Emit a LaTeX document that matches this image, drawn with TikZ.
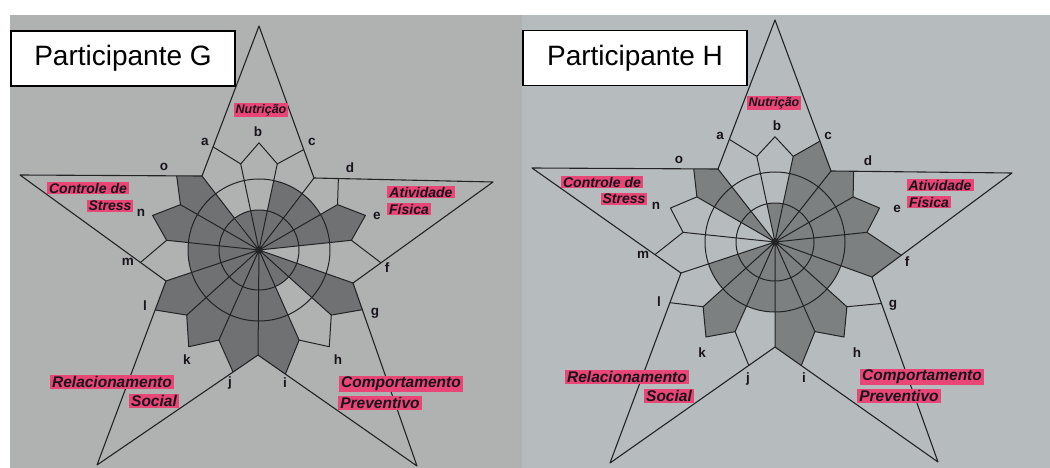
\documentclass[tikz,border=0pt]{standalone}
\usepackage{fontspec}
\setmainfont{Liberation Sans}
\usetikzlibrary{calc}
\definecolor{photoG}{RGB}{176,178,178}
\definecolor{photoH}{RGB}{182,188,189}
\definecolor{shadeG}{RGB}{112,113,115}
\definecolor{shadeH}{RGB}{124,128,129}
\definecolor{linec}{RGB}{35,35,38}
\definecolor{pinkc}{RGB}{232,70,118}
\definecolor{textc}{RGB}{25,20,28}
\tikzset{
  starline/.style={draw=linec, line width=1.1pt, line join=round},
  gridline/.style={draw=linec, line width=1pt, line join=round},
  shd/.style={fill=shadeG},
  comp/.style={fill=pinkc, text=textc, font=\fontsize{14}{15}\selectfont\bfseries\itshape, inner xsep=2pt, inner ysep=1.2pt},
  compbig/.style={comp, font=\fontsize{15.5}{16}\selectfont\bfseries\itshape},
  compsmall/.style={comp, font=\fontsize{12.5}{13}\selectfont\bfseries\itshape},
  letter/.style={text=textc, font=\fontsize{13.5}{13.5}\selectfont\bfseries, inner sep=0pt},
  titlebox/.style={draw=black, line width=1.6pt, fill=white, font=\fontsize{28}{28}\selectfont, minimum width=224pt, minimum height=55pt, inner sep=0pt}
}
\newcommand\shadesector[5]{%
  \ifcase#2\relax
  \or\fill[shd] (#1C) -- ($(#1C)+(#3:\ra pt)$) arc[start angle=#3,end angle=#4,radius=\ra pt] -- cycle;
  \or\fill[shd] (#1C) -- ($(#1C)+(#3:\rb pt)$) arc[start angle=#3,end angle=#4,radius=\rb pt] -- cycle;
  \or\fill[shd] #5;
  \fi}
% perspective factor: radius grows towards the bottom of the photo
\newcommand\comp[9]{%
  \pgfmathsetmacro\aA{#3+36}%
  \pgfmathsetmacro\aB{#3+12}%
  \pgfmathsetmacro\aC{#3-12}%
  \pgfmathsetmacro\aD{#3-36}%
  \pgfmathsetmacro\tA{#3+24}%
  \pgfmathsetmacro\tC{#3-24}%
  \pgfmathsetmacro\sB{\rs*(1-\pk*sin(\aB))}%
  \pgfmathsetmacro\sC{\rs*(1-\pk*sin(\aC))}%
  \pgfmathsetmacro\tB{\rt*(1-\pk*sin(#3))}%
  \coordinate (#1SA#2) at ($(#1C)+(\aB:\sB pt)$);
  \coordinate (#1SB#2) at ($(#1C)+(\aC:\sC pt)$);
  \coordinate (#1TB#2) at ($(#1C)+(#3:\tB pt)$);
  \coordinate (#1XA#2) at ($(#1C)+(\tA:400pt)$);
  \coordinate (#1XC#2) at ($(#1C)+(\tC:400pt)$);
  \coordinate (#1TA#2) at (intersection of #1C--#1XA#2 and #1#4--#1#5);
  \coordinate (#1TC#2) at (intersection of #1C--#1XC#2 and #1#4--#1#6);
  \shadesector{#1}{#7}{\aA}{\aB}{(#1C)--(#1#5)--(#1TA#2)--(#1SA#2)--cycle}%
  \shadesector{#1}{#8}{\aB}{\aC}{(#1C)--(#1SA#2)--(#1TB#2)--(#1SB#2)--cycle}%
  \shadesector{#1}{#9}{\aC}{\aD}{(#1C)--(#1SB#2)--(#1TC#2)--(#1#6)--cycle}%
}
\newcommand\complines[2]{%
  \draw[gridline] (#1C)--(#1SA#2) (#1C)--(#1SB#2);
  \draw[gridline] (#1TA#2)--(#1SA#2)--(#1TB#2)--(#1SB#2)--(#1TC#2);
}
\newcommand\wheel[1]{%
  \draw[gridline] (#1C)--(#1Pa) (#1C)--(#1Pb) (#1C)--(#1Pc) (#1C)--(#1Pd) (#1C)--(#1Pe);
  \foreach \i in {0,...,4}{\complines{#1}{\i}}
  \draw[gridline] (#1C) circle[radius=\ra pt] (#1C) circle[radius=\rb pt];
  \draw[starline] (#1T)--(#1Pb)--(#1R)--(#1Pc)--(#1BR)--(#1Pd)--(#1BL)--(#1Pe)--(#1L)--(#1Pa)--cycle;
  \fill[linec] (#1C) circle[radius=3.8pt];
}
\begin{document}
\begin{tikzpicture}[x=1pt,y=-1pt]
\useasboundingbox (0,0) rectangle (1050,468);
\fill[white] (0,0) rectangle (1050,468);
\fill[photoG] (10,15) rectangle (522,468);
\fill[photoH] (522,15) rectangle (1050,468);
% ---------- Participant G ----------
\coordinate (GC) at (259,250);
\coordinate (GT) at (259,26);
\coordinate (GR) at (493,182);
\coordinate (GBR) at (417,466);
\coordinate (GBL) at (97,465);
\coordinate (GL) at (20,175);
\coordinate (GPa) at (202,176);
\coordinate (GPb) at (314,178);
\coordinate (GPc) at (353,283);
\coordinate (GPd) at (258,355);
\coordinate (GPe) at (166,281);
\def\ra{40}\def\rb{71}\def\rs{93.5}\def\rt{114}\def\pk{0.06}
\tikzset{shd/.style={fill=shadeG}}
\comp{G}{0}{90}{T}{Pa}{Pb}{1}{1}{2}
\comp{G}{1}{18}{R}{Pb}{Pc}{2}{3}{0}
\comp{G}{2}{-54}{BR}{Pc}{Pd}{3}{1}{3}
\comp{G}{3}{-126}{BL}{Pd}{Pe}{3}{3}{3}
\comp{G}{4}{-198}{L}{Pe}{Pa}{2}{3}{3}
\wheel{G}
% ---------- Participant H ----------
\coordinate (HC) at (775,242);
\coordinate (HT) at (775,20);
\coordinate (HR) at (1012,173);
\coordinate (HBR) at (938,462);
\coordinate (HBL) at (610,463);
\coordinate (HL) at (532,168);
\coordinate (HPa) at (718,169);
\coordinate (HPb) at (831,171);
\coordinate (HPc) at (872,277);
\coordinate (HPd) at (775,347);
\coordinate (HPe) at (681,273);
\def\ra{39}\def\rb{70}\def\rs{93}\def\rt{112}\def\pk{0.06}
\tikzset{shd/.style={fill=shadeH}}
\comp{H}{0}{90}{T}{Pa}{Pb}{0}{1}{3}
\comp{H}{1}{18}{R}{Pb}{Pc}{3}{3}{3}
\comp{H}{2}{-54}{BR}{Pc}{Pd}{2}{3}{3}
\comp{H}{3}{-126}{BL}{Pd}{Pe}{2}{3}{2}
\comp{H}{4}{-198}{L}{Pe}{Pa}{0}{0}{3}
\wheel{H}
% ---------- titles ----------
\node[titlebox] (Gtitle) at (123,58.5) {Participante G};
\node[titlebox] (Htitle) at (635,58) {Participante H};
% ---------- component labels G ----------
\node[compsmall] (GNut) at (261,110) {Nutrição};
\node[comp] (GCon) at (88,188) {Controle de};
\node[comp] (GStr) at (110,206) {Stress};
\node[comp] (GAti) at (421,192) {Atividade};
\node[comp] (GFis) at (409,209) {Física};
\node[compbig] (GRel) at (112,382) {Relacionamento};
\node[compbig] (GSoc) at (154,401) {Social};
\node[compbig] (GCom) at (401,384) {Comportamento};
\node[compbig] (GPre) at (380,403) {Preventivo};
% ---------- component labels H ----------
\node[compsmall] (HNut) at (774,103) {Nutrição};
\node[comp] (HCon) at (602,182) {Controle de};
\node[comp] (HStr) at (624,199) {Stress};
\node[comp] (HAti) at (940,185) {Atividade};
\node[comp] (HFis) at (929,202) {Física};
\node[compbig] (HRel) at (627,377) {Relacionamento};
\node[compbig] (HSoc) at (669,396) {Social};
\node[compbig] (HCom) at (922,377) {Comportamento};
\node[compbig] (HPre) at (899,396) {Preventivo};
% ---------- letters G ----------
\node[letter] (Ga) at (205,142) {a};
\node[letter] (Gb) at (258,132) {b};
\node[letter] (Gc) at (312,142) {c};
\node[letter] (Gd) at (350,168) {d};
\node[letter] (Ge) at (377,216) {e};
\node[letter] (Gf) at (387,268) {f};
\node[letter] (Gg) at (375,313) {g};
\node[letter] (Gh) at (338,360) {h};
\node[letter] (Gi) at (285,383) {i};
\node[letter] (Gj) at (230,383) {j};
\node[letter] (Gk) at (187,360) {k};
\node[letter] (Gl) at (145,306) {l};
\node[letter] (Gm) at (128,262) {m};
\node[letter] (Gn) at (141,213) {n};
\node[letter] (Go) at (164,167) {o};
% ---------- letters H ----------
\node[letter] (Ha) at (720,136) {a};
\node[letter] (Hb) at (777,126) {b};
\node[letter] (Hc) at (828,136) {c};
\node[letter] (Hd) at (868,161) {d};
\node[letter] (He) at (897,209) {e};
\node[letter] (Hf) at (907,262) {f};
\node[letter] (Hg) at (893,305) {g};
\node[letter] (Hh) at (857,353) {h};
\node[letter] (Hi) at (804,378) {i};
\node[letter] (Hj) at (748,379) {j};
\node[letter] (Hk) at (702,353) {k};
\node[letter] (Hl) at (659,302) {l};
\node[letter] (Hm) at (643,255) {m};
\node[letter] (Hn) at (656,206) {n};
\node[letter] (Ho) at (679,160) {o};
\end{tikzpicture}
\end{document}
